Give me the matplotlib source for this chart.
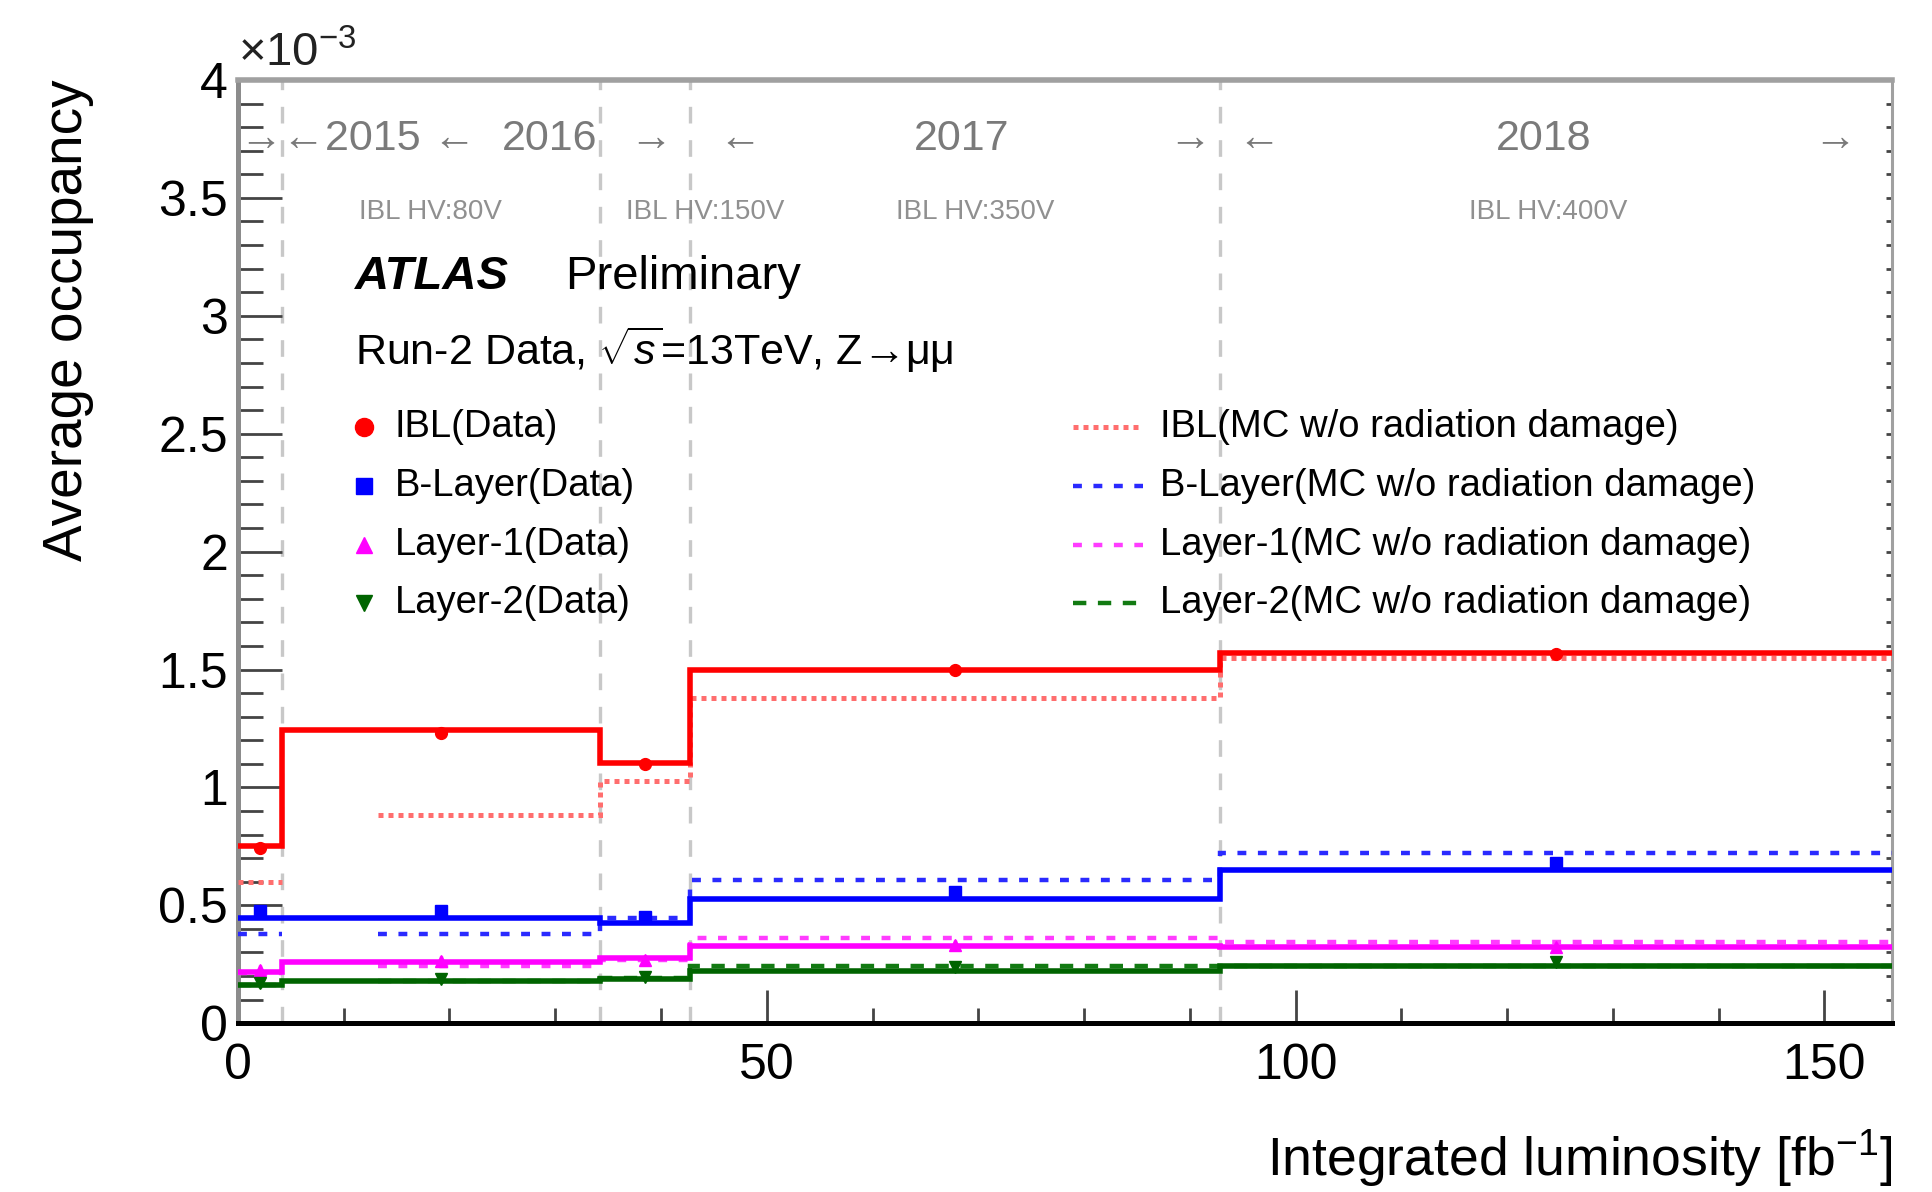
import matplotlib
matplotlib.use('Agg')
import matplotlib.pyplot as plt
from matplotlib.ticker import MultipleLocator, FuncFormatter
from matplotlib.lines import Line2D

plt.rcParams['font.family'] = ['Liberation Sans', 'DejaVu Sans']
plt.rcParams['mathtext.fontset'] = 'custom'
plt.rcParams['mathtext.rm'] = 'Liberation Sans'
plt.rcParams['mathtext.it'] = 'Liberation Sans:italic'
plt.rcParams['mathtext.bf'] = 'Liberation Sans:bold'

# ---------------- data (occupancy in units of 1e-3) ----------------
bin_edges = [0.0, 4.2, 34.2, 42.7, 92.9, 156.4]      # integrated luminosity [fb^-1]
mc_start = [0.0, 13.2, 34.2, 42.7, 92.9]             # start of each MC segment

ibl_data = [0.751, 1.243, 1.102, 1.500, 1.569]
bl_data = [0.445, 0.445, 0.426, 0.527, 0.648]
l1_data = [0.218, 0.261, 0.275, 0.328, 0.325]
l2_data = [0.162, 0.179, 0.186, 0.222, 0.243]

ibl_pts = [0.742, 1.232, 1.098, 1.497, 1.566]
bl_pts = [0.475, 0.474, 0.449, 0.558, 0.678]
l1_pts = [0.226, 0.263, 0.270, 0.332, 0.322]
l2_pts = [0.169, 0.189, 0.197, 0.240, 0.258]
pts_err = [0.02, 0.02, 0.02, 0.02, 0.02]

ibl_mc = [0.600, 0.883, 1.028, 1.380, 1.547]
bl_mc = [0.380, 0.380, 0.445, 0.608, 0.720]
l1_mc = [0.215, 0.244, 0.268, 0.360, 0.343]
l2_mc = [0.160, 0.178, 0.192, 0.242, 0.243]

layer_names = ['IBL', 'B-Layer', 'Layer-1', 'Layer-2']
period_bounds = [4.2, 34.2, 42.7, 92.9]
hv_labels = ['IBL HV:80V', 'IBL HV:150V', 'IBL HV:350V', 'IBL HV:400V']

# ---------------- styles ----------------
styles = [
    dict(c='#ff0000', mc='#ff6e6e', m='o', ls=(0, (1, 1)), lw_mc=3.6, ms=8.5, lms=13),
    dict(c='#0000ff', mc='#2a2aff', m='s', ls=(0, (2, 2.6)), lw_mc=3.2, ms=8, lms=12),
    dict(c='#ff00ff', mc='#ff3cff', m='^', ls=(0, (2, 2.6)), lw_mc=3.2, ms=8.5, lms=12),
    dict(c='#006400', mc='#127a12', m='v', ls=(0, (3, 2.6)), lw_mc=3.2, ms=8.5, lms=12),
]
data_all = [ibl_data, bl_data, l1_data, l2_data]
pts_all = [ibl_pts, bl_pts, l1_pts, l2_pts]
mc_all = [ibl_mc, bl_mc, l1_mc, l2_mc]

fig = plt.figure(figsize=(19.33, 11.92), dpi=100)
ax = fig.add_axes([0.1231, 0.1416, 0.8557, 0.7913])
ax.set_xlim(bin_edges[0], bin_edges[-1])
ax.set_ylim(0, 4)

# period boundaries
for xb in period_bounds:
    ax.axvline(xb, color='#c8c8c8', lw=2.4, ls=(0, (5, 5)), zorder=1)

centers = [(bin_edges[i] + bin_edges[i + 1]) / 2 for i in range(len(bin_edges) - 1)]

for d, p, mcv, st in zip(data_all, pts_all, mc_all, styles):
    # MC segments (group contiguous bins)
    groups = []
    ge, gv = [mc_start[0], bin_edges[1]], [mcv[0]]
    for i in range(1, len(mcv)):
        if abs(mc_start[i] - bin_edges[i]) < 1e-9:
            ge.append(bin_edges[i + 1]); gv.append(mcv[i])
        else:
            groups.append((ge, gv))
            ge, gv = [mc_start[i], bin_edges[i + 1]], [mcv[i]]
    groups.append((ge, gv))
    for ge, gv in groups:
        ax.stairs(gv, ge, baseline=None, color=st['mc'], lw=st['lw_mc'],
                  linestyle=st['ls'], zorder=3)
    # data histogram
    ax.stairs(d, bin_edges, baseline=None, color=st['c'], lw=4.0, zorder=4)
    # data points
    ax.errorbar(centers, p, yerr=pts_err, fmt=st['m'], color=st['c'], ms=st['ms'],
                elinewidth=2.5, capsize=0, zorder=5)

# ---------------- axes styling ----------------
ax.xaxis.set_major_locator(MultipleLocator(50))
ax.xaxis.set_minor_locator(MultipleLocator(10))
ax.yaxis.set_major_locator(MultipleLocator(0.5))
ax.yaxis.set_minor_locator(MultipleLocator(0.1))
ax.yaxis.set_major_formatter(FuncFormatter(lambda v, pos: '%g' % v))
ax.xaxis.set_major_formatter(FuncFormatter(lambda v, pos: '%g' % v))
ax.tick_params(axis='both', which='both', direction='in', top=False, right=True,
               color='#444444')
ax.tick_params(axis='x', which='major', length=24, width=2, pad=14, labelsize=36)
ax.tick_params(axis='x', which='minor', length=11, width=2)
ax.tick_params(axis='y', which='major', length=32, width=2, pad=7, labelsize=36)
ax.tick_params(axis='y', which='minor', length=18, width=2)
ax.tick_params(axis='y', which='both', right=True)
for t in ax.yaxis.get_major_ticks() + ax.yaxis.get_minor_ticks():
    t.tick2line.set_markersize(4)
    t.tick2line.set_color('#666666')

ax.spines['left'].set_color('#8c8c8c'); ax.spines['left'].set_linewidth(3.6)
ax.spines['bottom'].set_color('#000000'); ax.spines['bottom'].set_linewidth(3.6)
ax.spines['top'].set_color('#a0a0a0'); ax.spines['top'].set_linewidth(4.0)
ax.spines['right'].set_color('#a0a0a0'); ax.spines['right'].set_linewidth(2.2)

ax.text(0.0, 1.004, r'$\times10^{-3}$', transform=ax.transAxes, ha='left', va='bottom',
        fontsize=34, color='#222222')
fig.text(0.035, 0.933, 'Average occupancy', rotation=90, ha='center', va='top', fontsize=39.5)
fig.text(0.979, 0.028, r'Integrated luminosity [fb$^{-1}$]', ha='right', va='center',
         fontsize=38.5)

# ---------------- year / HV annotations ----------------
gray = '#7a7a7a'
ax.text(0.1, 3.75, '→←2015', ha='left', va='center', fontsize=31, color=gray, zorder=6)
year_marks = [('←', 20.4), ('2016', 29.5),
              ('→', 39.0), ('←', 47.4), ('2017', 68.4), ('→', 90.0), ('←', 96.5),
              ('2018', 123.5), ('→', 151.0)]
for t, xx in year_marks:
    ax.text(xx, 3.75, t, ha='center', va='center', fontsize=31, color=gray, zorder=6)
hv_x = [18.2, 44.2, 69.7, 123.9]
for t, xx in zip(hv_labels, hv_x):
    ax.text(xx, 3.44, t, ha='center', va='center', fontsize=20, color='#909090')

ax.text(11.1, 3.163, 'ATLAS', fontsize=34, fontweight='bold', fontstyle='italic',
        ha='left', va='center')
ax.text(30.9, 3.163, 'Preliminary', fontsize=34, ha='left', va='center')
ax.text(11.1, 2.855, r'Run-2 Data, $\sqrt{s}$=13TeV, Z→μμ', fontsize=31,
        ha='left', va='center')

# ---------------- legend (manual) ----------------
row_y = [2.53, 2.28, 2.03, 1.78]
for name, st, yy in zip(layer_names, styles, row_y):
    ax.plot([11.9], [yy], marker=st['m'], color=st['c'], ms=st['lms'], ls='none',
            zorder=6)
    ax.text(14.8, yy, name + '(Data)', fontsize=27.5, ha='left', va='center')
    ax.add_line(Line2D([79.0, 85.6], [yy, yy], color=st['mc'], lw=st['lw_mc'],
                       linestyle=st['ls']))
    ax.text(87.2, yy, name + '(MC w/o radiation damage)', fontsize=27.5, ha='left',
            va='center')

fig.savefig('out.png', dpi=100)
